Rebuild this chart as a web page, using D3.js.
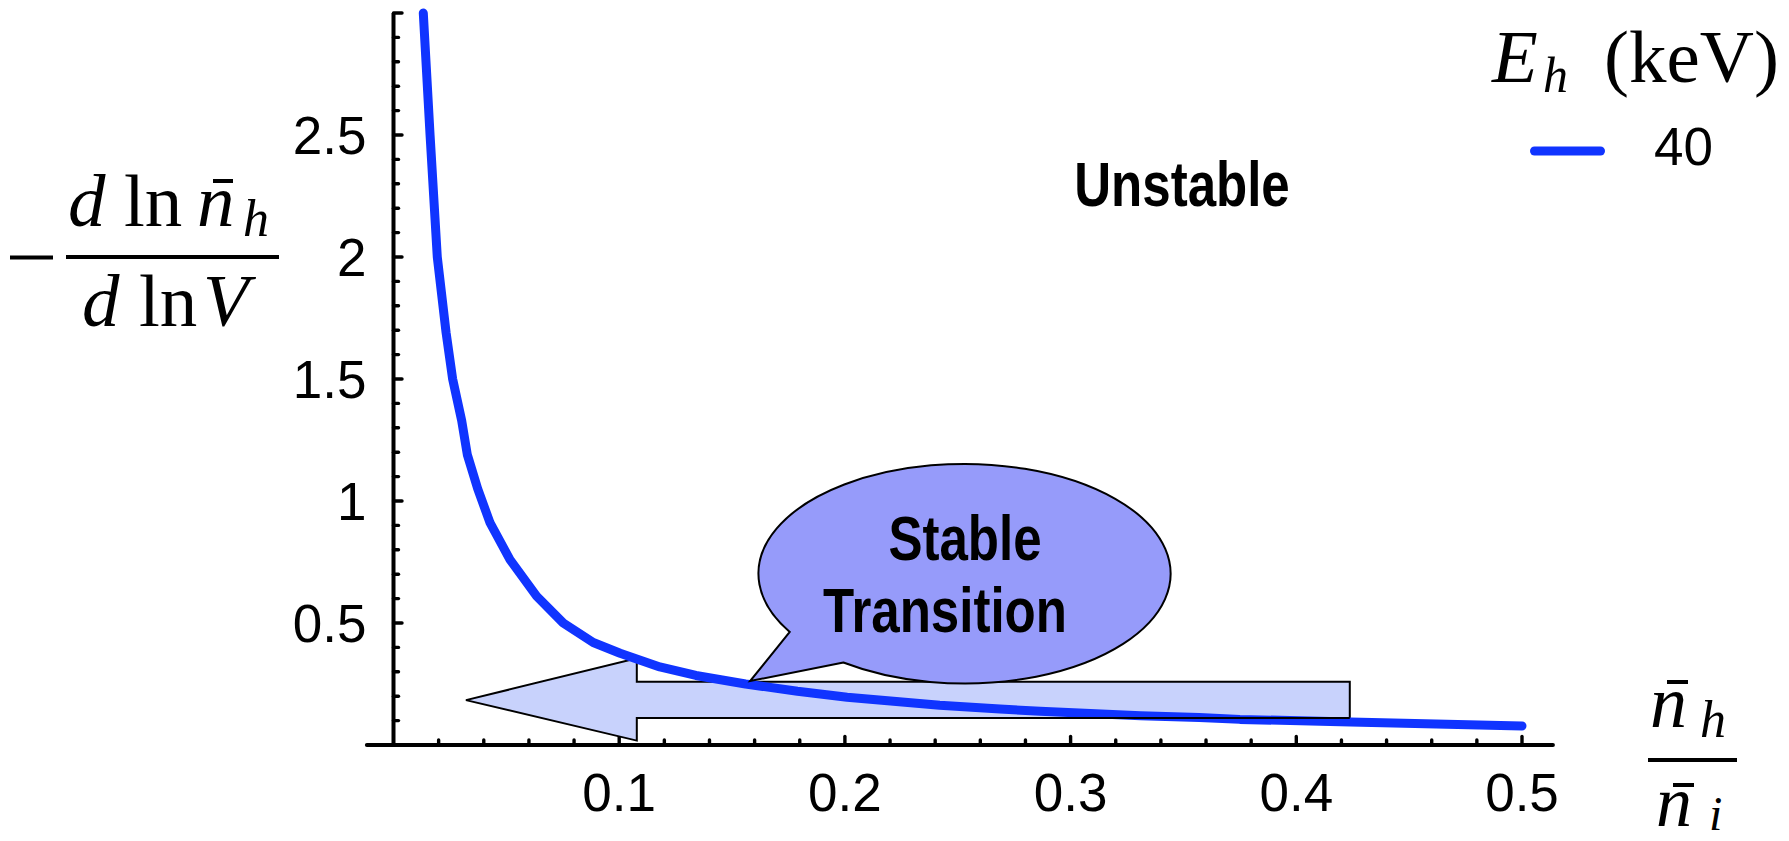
<!DOCTYPE html>
<html>
<head>
<meta charset="utf-8">
<script src="https://cdn.jsdelivr.net/npm/d3@7"></script>
<style>
  html, body { margin: 0; padding: 0; background: #fff; }
  svg { display: block; }
  .tick-label { font-family: "Liberation Sans", Arial, Helvetica, sans-serif; font-size: 53px; fill: #000; }
  .math { font-family: "Liberation Serif", "Times New Roman", serif; fill: #000; }
  .note { font-family: "Liberation Sans", Arial, Helvetica, sans-serif; font-weight: bold; font-size: 63px; fill: #000; }
</style>
</head>
<body>
<svg id="chart" width="1789" height="841"></svg>
<script>
// Normalised hot-ion density n_h / n_i
const densityRatio = [0.0132, 0.0162, 0.0194, 0.0233, 0.0262, 0.0302, 0.0327, 0.0373, 0.0428,
  0.0516, 0.0634, 0.0752, 0.0885, 0.1004, 0.118, 0.134, 0.156, 0.179, 0.201, 0.242,
  0.2687, 0.2865, 0.331, 0.357, 0.375, 0.424, 0.5];
// -d ln n_h / d ln V for E_h = 40 keV
const slope40keV = [3.0, 2.5, 2.0, 1.69, 1.5, 1.33, 1.19, 1.05, 0.91,
  0.76, 0.61, 0.50, 0.42, 0.376, 0.32, 0.285, 0.25, 0.22, 0.196, 0.163,
  0.1475, 0.138, 0.12, 0.113, 0.105, 0.094, 0.078];

const seriesName = "40";

const xMajorTicks = [0.1, 0.2, 0.3, 0.4, 0.5];
const xTickLabels = ["0.1", "0.2", "0.3", "0.4", "0.5"];
const xMinorTicks = [0.02, 0.04, 0.06, 0.08, 0.12, 0.14, 0.16, 0.18, 0.22, 0.24, 0.26, 0.28,
  0.32, 0.34, 0.36, 0.38, 0.42, 0.44, 0.46, 0.48];

const yMajorTicks = [0.5, 1, 1.5, 2, 2.5, 3];
const yTickLabels = ["0.5", "1", "1.5", "2", "2.5", ""];
const yMinorTicks = [0.1, 0.2, 0.3, 0.4, 0.6, 0.7, 0.8, 0.9, 1.1, 1.2, 1.3, 1.4, 1.6, 1.7, 1.8, 1.9,
  2.1, 2.2, 2.3, 2.4, 2.6, 2.7, 2.8, 2.9];

// Hollow arrow pointing toward lower density (data units)
const arrowShape = [[0.0321, 0.184], [0.1078, 0.355], [0.1078, 0.259], [0.4237, 0.259],
  [0.4237, 0.111], [0.1078, 0.111], [0.1078, 0.018]];

// Speech-bubble callout (data units); pointer base given as ellipse angles in degrees
const bubbleCenter = [0.253, 0.702];
const bubbleRadii = [0.0913, 0.45];
const bubbleTip = [0.158, 0.262];
const bubbleBaseAngles = [126, 148];

const COLORS = { curve: "#1034ff", arrow: "#c8d2fc", bubble: "#969bfa", ink: "#000" };

const svg = d3.select("#chart");

const x = d3.scaleLinear().domain([0, 0.5]).range([393.5, 1522]);
const y = d3.scaleLinear().domain([0, 3]).range([745, 13]);

// ---- axes ----
const axes = svg.append("g");
axes.append("line")
  .attr("x1", x(-0.0118)).attr("x2", x(0.5137))
  .attr("y1", y(0)).attr("y2", y(0))
  .attr("stroke", COLORS.ink).attr("stroke-width", 4).attr("stroke-linecap", "round");
axes.append("line")
  .attr("x1", x(0)).attr("x2", x(0))
  .attr("y1", y(0)).attr("y2", y(3))
  .attr("stroke", COLORS.ink).attr("stroke-width", 4);

function tickLines(g, values, len, horizontal) {
  g.selectAll(null).data(values).join("line")
    .attr("x1", d => horizontal ? x(d) : x(0))
    .attr("x2", d => horizontal ? x(d) : x(0) + len)
    .attr("y1", d => horizontal ? y(0) : y(d))
    .attr("y2", d => horizontal ? y(0) - len : y(d))
    .attr("stroke", COLORS.ink).attr("stroke-width", 3.4).attr("stroke-linecap", "round");
}
tickLines(axes, xMinorTicks, 5, true);
tickLines(axes, xMajorTicks, 8.5, true);
tickLines(axes, yMinorTicks, 5, false);
tickLines(axes, yMajorTicks, 8.5, false);

axes.selectAll(".xl").data(xMajorTicks).join("text")
  .attr("class", "tick-label")
  .attr("x", d => x(d)).attr("y", y(0) + 66)
  .attr("text-anchor", "middle")
  .text((d, i) => xTickLabels[i]);

axes.selectAll(".yl").data(yMajorTicks).join("text")
  .attr("class", "tick-label")
  .attr("x", x(0) - 27).attr("y", d => y(d) + 19)
  .attr("text-anchor", "end")
  .text((d, i) => yTickLabels[i]);

// ---- annotations: arrow body ----
const arrowPath = d3.line().x(d => x(d[0])).y(d => y(d[1]));
svg.append("path")
  .attr("d", arrowPath(arrowShape) + "Z")
  .attr("fill", COLORS.arrow)
  .attr("stroke", COLORS.ink).attr("stroke-width", 2).attr("stroke-linejoin", "miter");

// ---- curve ----
const points = densityRatio.map((v, i) => [v, slope40keV[i]]);
svg.append("path")
  .datum(points)
  .attr("d", d3.line().x(d => x(d[0])).y(d => y(d[1])))
  .attr("fill", "none")
  .attr("stroke", COLORS.curve).attr("stroke-width", 9)
  .attr("stroke-linecap", "round").attr("stroke-linejoin", "round");

// lower edge of the arrow shaft sits over the curve
svg.append("line")
  .attr("x1", x(arrowShape[4][0])).attr("x2", x(arrowShape[5][0]))
  .attr("y1", y(arrowShape[4][1])).attr("y2", y(arrowShape[5][1]))
  .attr("stroke", COLORS.ink).attr("stroke-width", 2);

// ---- speech bubble ----
const cx = x(bubbleCenter[0]), cy = y(bubbleCenter[1]);
const rx = x(bubbleCenter[0] + bubbleRadii[0]) - cx;
const ry = cy - y(bubbleCenter[1] + bubbleRadii[1]);
const onEllipse = deg => {
  const t = deg * Math.PI / 180;
  return [cx + rx * Math.cos(t), cy + ry * Math.sin(t)];
};
const joinA = onEllipse(bubbleBaseAngles[0]);
const joinB = onEllipse(bubbleBaseAngles[1]);
const tip = [x(bubbleTip[0]), y(bubbleTip[1])];
svg.append("path")
  .attr("d", `M${joinA[0]},${joinA[1]} L${tip[0]},${tip[1]} L${joinB[0]},${joinB[1]} ` +
             `A${rx},${ry} 0 1 1 ${joinA[0]},${joinA[1]} Z`)
  .attr("fill", COLORS.bubble)
  .attr("stroke", COLORS.ink).attr("stroke-width", 2).attr("stroke-linejoin", "miter");

function condensedLabel(px, py, str) {
  svg.append("g").attr("transform", `translate(${px},${py}) scale(0.81,1)`)
    .append("text").attr("class", "note").attr("text-anchor", "middle").text(str);
}
condensedLabel(965, 560, "Stable");
condensedLabel(945, 632, "Transition");
condensedLabel(1182, 206, "Unstable");

// ---- y-axis title: - d ln n̄_h / d ln V ----
const yTitle = svg.append("g");
yTitle.append("line").attr("x1", 10).attr("x2", 53).attr("y1", 257.5).attr("y2", 257.5)
  .attr("stroke", COLORS.ink).attr("stroke-width", 4);
yTitle.append("line").attr("x1", 66).attr("x2", 279).attr("y1", 257).attr("y2", 257)
  .attr("stroke", COLORS.ink).attr("stroke-width", 4);
const num = yTitle.append("text").attr("class", "math").attr("y", 226).attr("font-size", 75);
num.append("tspan").attr("x", 68).attr("font-style", "italic").text("d");
num.append("tspan").attr("x", 124).text("ln");
num.append("tspan").attr("x", 197).attr("font-style", "italic").text("n");
num.append("tspan").attr("x", 243).attr("dy", 10).attr("font-style", "italic").attr("font-size", 52).text("h");
yTitle.append("line").attr("x1", 213).attr("x2", 233).attr("y1", 181).attr("y2", 181)
  .attr("stroke", COLORS.ink).attr("stroke-width", 4);
const den = yTitle.append("text").attr("class", "math").attr("y", 326).attr("font-size", 75);
den.append("tspan").attr("x", 82).attr("font-style", "italic").text("d");
den.append("tspan").attr("x", 139).text("ln");
den.append("tspan").attr("x", 203).attr("font-style", "italic").text("V");

// ---- x-axis title: n̄_h / n̄_i ----
const xTitle = svg.append("g");
xTitle.append("line").attr("x1", 1648).attr("x2", 1737).attr("y1", 760).attr("y2", 760)
  .attr("stroke", COLORS.ink).attr("stroke-width", 4);
const xn = xTitle.append("text").attr("class", "math").attr("y", 727).attr("font-size", 74);
xn.append("tspan").attr("x", 1650).attr("font-style", "italic").text("n");
xn.append("tspan").attr("x", 1700).attr("dy", 10).attr("font-style", "italic").attr("font-size", 52).text("h");
xTitle.append("line").attr("x1", 1667).attr("x2", 1688).attr("y1", 682).attr("y2", 682)
  .attr("stroke", COLORS.ink).attr("stroke-width", 4);
const xd = xTitle.append("text").attr("class", "math").attr("y", 826).attr("font-size", 72);
xd.append("tspan").attr("x", 1656).attr("font-style", "italic").text("n");
xd.append("tspan").attr("x", 1709).attr("dy", 4).attr("font-style", "italic").attr("font-size", 48).text("i");
xTitle.append("line").attr("x1", 1673).attr("x2", 1694).attr("y1", 785).attr("y2", 785)
  .attr("stroke", COLORS.ink).attr("stroke-width", 4);

// ---- legend ----
const legend = svg.append("g");
const lt = legend.append("text").attr("class", "math").attr("y", 82).attr("font-size", 75);
lt.append("tspan").attr("x", 1492).attr("font-style", "italic").text("E");
lt.append("tspan").attr("x", 1543).attr("dy", 10).attr("font-style", "italic").attr("font-size", 50).text("h");
lt.append("tspan").attr("x", 1604).attr("dy", -10).text("(keV)");
legend.append("line").attr("x1", 1534.5).attr("x2", 1600.5).attr("y1", 151).attr("y2", 151)
  .attr("stroke", COLORS.curve).attr("stroke-width", 9).attr("stroke-linecap", "round");
legend.append("text").attr("class", "tick-label").attr("x", 1654).attr("y", 165).text(seriesName);
</script>
</body>
</html>
